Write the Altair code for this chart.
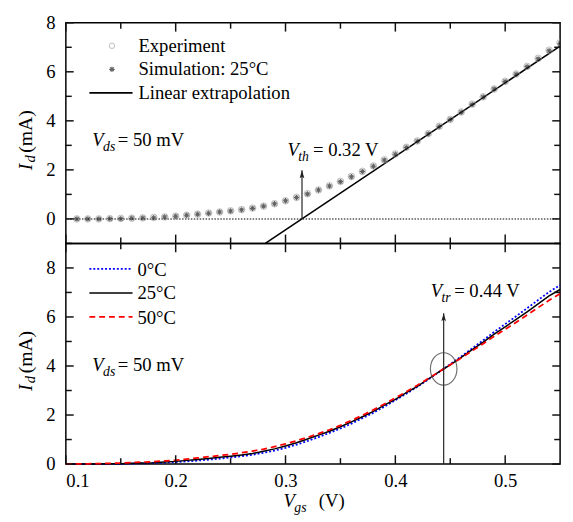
import altair as alt
import pandas as pd

FONT = "Liberation Serif"
W, H = 504, 225

# ---------------- data ----------------
vgs_pts = [0.11, 0.12, 0.13, 0.14, 0.15, 0.16, 0.17, 0.18, 0.19, 0.20,
           0.21, 0.22, 0.23, 0.24, 0.25, 0.26, 0.27, 0.28, 0.29, 0.30,
           0.31, 0.32, 0.33, 0.34, 0.35, 0.36, 0.37, 0.38, 0.39, 0.40,
           0.41, 0.42, 0.43, 0.44, 0.45, 0.46, 0.47, 0.48, 0.49, 0.50,
           0.51, 0.52, 0.53, 0.54, 0.55]
id_experiment = [0.00, 0.00, 0.00, 0.01, 0.02, 0.03, 0.04, 0.06, 0.08, 0.11,
                 0.15, 0.19, 0.24, 0.28, 0.33, 0.38, 0.44, 0.52, 0.62, 0.74,
                 0.88, 1.03, 1.18, 1.35, 1.53, 1.73, 1.94, 2.16, 2.41, 2.65,
                 2.92, 3.18, 3.48, 3.78, 4.06, 4.36, 4.68, 4.98, 5.30, 5.61,
                 5.91, 6.22, 6.55, 6.88, 7.18]
id_simulation = [0.00, 0.00, 0.00, 0.01, 0.01, 0.03, 0.04, 0.05, 0.08, 0.11,
                 0.15, 0.19, 0.23, 0.28, 0.32, 0.37, 0.43, 0.52, 0.62, 0.74,
                 0.87, 1.02, 1.18, 1.34, 1.52, 1.72, 1.93, 2.15, 2.40, 2.64,
                 2.91, 3.17, 3.47, 3.77, 4.05, 4.35, 4.67, 4.97, 5.30, 5.60,
                 5.90, 6.21, 6.53, 6.86, 7.15]
extrap_vgs = [0.2816, 0.55]
extrap_id = [-1.0, 7.05]
vth_x = 0.315
vth_arrow_top = 1.98

vgs_curve = [0.10, 0.11, 0.12, 0.13, 0.14, 0.15, 0.16, 0.17, 0.18, 0.19, 0.20,
             0.21, 0.22, 0.23, 0.24, 0.25, 0.26, 0.27, 0.28, 0.29, 0.30,
             0.31, 0.32, 0.33, 0.34, 0.35, 0.36, 0.37, 0.38, 0.39, 0.40,
             0.41, 0.42, 0.43, 0.44, 0.45, 0.46, 0.47, 0.48, 0.49, 0.50,
             0.51, 0.52, 0.53, 0.54, 0.55]
id_0C = [0.00, 0.00, 0.00, 0.00, 0.00, 0.01, 0.02, 0.03, 0.04, 0.06, 0.08,
         0.11, 0.14, 0.18, 0.22, 0.27, 0.32, 0.38, 0.46, 0.55, 0.66,
         0.79, 0.94, 1.10, 1.27, 1.45, 1.65, 1.87, 2.09, 2.34, 2.60,
         2.87, 3.15, 3.45, 3.76, 4.07, 4.39, 4.72, 5.05, 5.39, 5.71,
         6.03, 6.36, 6.69, 7.02, 7.30]
id_25C = [0.00, 0.00, 0.00, 0.00, 0.01, 0.01, 0.03, 0.04, 0.05, 0.08, 0.11,
          0.15, 0.19, 0.23, 0.28, 0.32, 0.37, 0.43, 0.52, 0.62, 0.74,
          0.87, 1.02, 1.18, 1.34, 1.52, 1.72, 1.93, 2.15, 2.40, 2.64,
          2.91, 3.17, 3.47, 3.77, 4.05, 4.35, 4.67, 4.97, 5.30, 5.60,
          5.90, 6.21, 6.53, 6.86, 7.12]
id_50C = [0.00, 0.01, 0.01, 0.02, 0.03, 0.04, 0.06, 0.08, 0.10, 0.13, 0.16,
          0.20, 0.25, 0.30, 0.35, 0.40, 0.46, 0.53, 0.61, 0.71, 0.82,
          0.95, 1.09, 1.24, 1.40, 1.58, 1.78, 1.99, 2.21, 2.45, 2.70,
          2.95, 3.21, 3.49, 3.77, 4.05, 4.33, 4.62, 4.91, 5.21, 5.50,
          5.78, 6.08, 6.38, 6.68, 6.95]
vtr_x = 0.444
vtr_arrow_top = 6.15
vtr_id = 3.88

x_major = [0.1, 0.2, 0.3, 0.4, 0.5]
x_minor = [0.15, 0.25, 0.35, 0.45]
x_labels = [0.1, 0.2, 0.3, 0.4, 0.5]
top_y_major = [0, 2, 4, 6, 8]
top_y_minor = [-1, 1, 3, 5, 7]
bot_y_major = [0, 2, 4, 6, 8]
bot_y_minor = [1, 3, 5, 7]
y_labels = [0, 2, 4, 6, 8]

top_legend = ["Experiment", "Simulation: 25°C", "Linear extrapolation"]
bot_legend = ["0°C", "25°C", "50°C"]

# ---------------- helpers ----------------
XDOM = [0.1, 0.55]
xscale = alt.Scale(domain=XDOM, nice=False, zero=False)
TICK_COLOR = "#111111"


def one(**kw):
    return pd.DataFrame({k: [v] for k, v in kw.items()})


def txt(s, x, y, size=19, italic=False, angle=0, align="left"):
    return alt.Chart(pd.DataFrame({"t": [s]})).mark_text(
        font=FONT, fontSize=size, fontStyle="italic" if italic else "normal",
        align=align, baseline="alphabetic", angle=angle, color="black"
    ).encode(x=alt.value(x), y=alt.value(y), text="t:N")


def ticks(X, Y, ydom, xmaj, xmin, ymaj, ymin):
    """inward tick marks on all four sides, lengths converted from pixels to data units"""
    px_x = (XDOM[1] - XDOM[0]) / W
    px_y = (ydom[1] - ydom[0]) / H
    out = []
    for vals, L in [(xmaj, 9), (xmin, 6)]:
        for base, sgn in ((ydom[0], 1), (ydom[1], -1)):
            d = pd.DataFrame({"v": vals, "a": [base] * len(vals),
                              "b": [base + sgn * L * px_y] * len(vals)})
            out.append(alt.Chart(d).mark_rule(color=TICK_COLOR, strokeWidth=1.5).encode(
                x=X("v"), y=Y("a"), y2="b"))
    for vals, L in [(ymaj, 8), (ymin, 6)]:
        for base, sgn in ((XDOM[0], 1), (XDOM[1], -1)):
            d = pd.DataFrame({"v": vals, "a": [base] * len(vals),
                              "b": [base + sgn * L * px_x] * len(vals)})
            out.append(alt.Chart(d).mark_rule(color=TICK_COLOR, strokeWidth=1.5).encode(
                y=Y("v"), x=X("a"), x2="b"))
    return out


def ytitle():
    c = H / 2
    return [
        txt("I", -35, c + 38, size=20, italic=True, angle=270),
        txt("d", -31, c + 30, size=15, italic=True, angle=270),
        txt("(mA)", -35, c + 20, size=20, angle=270),
    ]


yaxis = alt.Axis(values=y_labels, ticks=False, tickSize=0, domain=False, grid=False,
                 labelFont=FONT, labelFontSize=19, labelColor="black",
                 labelPadding=11, title=None)

asterisk = "M-1,0L1,0M0,-1L0,1M-0.7,-0.7L0.7,0.7M-0.7,0.7L0.7,-0.7"
arrowhead = "M0,0L-0.6,2L0,1.6L0.6,2Z"
ellipse = "M-0.82,0A0.82,1 0 1,1 0.82,0A0.82,1 0 1,1 -0.82,0Z"

# ---------------- top panel ----------------
YDOM_TOP = [-1, 8]
ys_top = alt.Scale(domain=YDOM_TOP, nice=False, zero=False)
Xt = lambda f: alt.X(f, type="quantitative", scale=xscale, axis=None)
Yt = lambda f: alt.Y(f, type="quantitative", scale=ys_top, axis=yaxis)

df_pts = pd.DataFrame({"v": vgs_pts, "exp": id_experiment, "sim": id_simulation})
df_ext = pd.DataFrame({"v": extrap_vgs, "i": extrap_id})

top_layers = [
    alt.Chart(one(y=0)).mark_rule(color="#555", strokeWidth=1.5, strokeDash=[1.5, 1.5]).encode(y=Yt("y")),
    alt.Chart(df_ext).mark_line(color="black", strokeWidth=1.6).encode(x=Xt("v"), y=Yt("i")),
    alt.Chart(df_pts).mark_point(shape="circle", size=45, color="#a0a0a0", strokeWidth=1, filled=False, clip=True).encode(x=Xt("v"), y=Yt("exp")),
    alt.Chart(df_pts).mark_point(shape=asterisk, size=30, color="#222", strokeWidth=1.1, filled=False, clip=True).encode(x=Xt("v"), y=Yt("sim")),
    alt.Chart(one(v=vth_x, a=0, b=vth_arrow_top)).mark_rule(color="#222", strokeWidth=1.2).encode(x=Xt("v"), y=Yt("a"), y2="b"),
    alt.Chart(one(v=vth_x, b=vth_arrow_top)).mark_point(shape=arrowhead, size=64, color="#222", fill="#222", filled=True, opacity=1).encode(x=Xt("v"), y=Yt("b")),
    # legend
    alt.Chart(one(d=0)).mark_point(shape="circle", size=30, color="#a0a0a0", strokeWidth=1, filled=False).encode(x=alt.value(47), y=alt.value(23.5)),
    alt.Chart(one(d=0)).mark_point(shape=asterisk, size=30, color="#222", strokeWidth=1.1, filled=False).encode(x=alt.value(47), y=alt.value(47.5)),
    alt.Chart(one(d=0)).mark_rule(color="black", strokeWidth=1.6).encode(x=alt.value(24), x2=alt.value(68), y=alt.value(71.5)),
    txt(top_legend[0], 74, 30),
    txt(top_legend[1], 74, 53.5),
    txt(top_legend[2], 74, 77.5),
    # annotations
    txt("V", 27, 125.5, italic=True),
    txt("ds", 38, 130.5, size=14, italic=True),
    txt("= 50 mV", 53, 125.5),
    txt("V", 226, 135.5, italic=True),
    txt("th", 237, 140.5, size=14, italic=True),
    txt("= 0.32 V", 252, 135.5),
] + ytitle() + ticks(Xt, Yt, YDOM_TOP, x_major, x_minor, top_y_major, top_y_minor)

top = alt.layer(*top_layers).properties(width=W, height=H)

# ---------------- bottom panel ----------------
YDOM_BOT = [0, 9]
ys_bot = alt.Scale(domain=YDOM_BOT, nice=False, zero=False)
xaxis_b = alt.Axis(values=x_labels, format=".1f", ticks=False, tickSize=0, domain=False, grid=False,
                   labelFont=FONT, labelFontSize=19, labelColor="black", labelPadding=8, title=None)
Xb = lambda f: alt.X(f, type="quantitative", scale=xscale, axis=xaxis_b)
Yb = lambda f: alt.Y(f, type="quantitative", scale=ys_bot, axis=yaxis)

df_c = pd.DataFrame({"v": vgs_curve, "c0": id_0C, "c25": id_25C, "c50": id_50C})

bot_layers = [
    alt.Chart(df_c).mark_line(color="#0000ff", strokeWidth=1.8, strokeDash=[2, 2]).encode(x=Xb("v"), y=Yb("c0")),
    alt.Chart(df_c).mark_line(color="black", strokeWidth=1.5).encode(x=Xb("v"), y=Yb("c25")),
    alt.Chart(df_c).mark_line(color="#ff0000", strokeWidth=1.8, strokeDash=[6, 4]).encode(x=Xb("v"), y=Yb("c50")),
    alt.Chart(one(v=vtr_x, a=0, b=vtr_arrow_top)).mark_rule(color="#222", strokeWidth=1.2).encode(x=Xb("v"), y=Yb("a"), y2="b"),
    alt.Chart(one(v=vtr_x, b=vtr_arrow_top)).mark_point(shape=arrowhead, size=64, color="#222", fill="#222", filled=True, opacity=1).encode(x=Xb("v"), y=Yb("b")),
    alt.Chart(one(v=vtr_x, i=vtr_id)).mark_point(shape=ellipse, size=1089, color="#333", strokeWidth=1.2, filled=False).encode(x=Xb("v"), y=Yb("i")),
    # legend
    alt.Chart(one(d=0)).mark_rule(color="#0000ff", strokeWidth=1.8, strokeDash=[2, 2]).encode(x=alt.value(24), x2=alt.value(68), y=alt.value(26)),
    alt.Chart(one(d=0)).mark_rule(color="black", strokeWidth=1.5).encode(x=alt.value(24), x2=alt.value(68), y=alt.value(50.5)),
    alt.Chart(one(d=0)).mark_rule(color="#ff0000", strokeWidth=1.8, strokeDash=[6, 4]).encode(x=alt.value(24), x2=alt.value(68), y=alt.value(75)),
    txt(bot_legend[0], 73, 33),
    txt(bot_legend[1], 73, 57),
    txt(bot_legend[2], 73, 82),
    # annotations
    txt("V", 27, 130, italic=True),
    txt("ds", 38, 135, size=14, italic=True),
    txt("= 50 mV", 53, 130),
    txt("V", 372, 55, italic=True),
    txt("tr", 383, 60, size=14, italic=True),
    txt("= 0.44 V", 396, 55),
    # x title
    txt("V", 222, 269, italic=True),
    txt("gs", 233, 273.5, size=14, italic=True),
    txt("(V)", 258, 269),
] + ytitle() + ticks(Xb, Yb, YDOM_BOT, x_major, x_minor, bot_y_major, bot_y_minor)

bottom = alt.layer(*bot_layers).properties(width=W, height=H)

chart = alt.vconcat(top, bottom, spacing=0, bounds="flush").properties(
    padding={"left": 7, "top": 0, "right": 0, "bottom": 0}
).configure_view(stroke="black", strokeWidth=1.5)

chart.save("out.html", embed_options={"renderer": "svg", "actions": False})
